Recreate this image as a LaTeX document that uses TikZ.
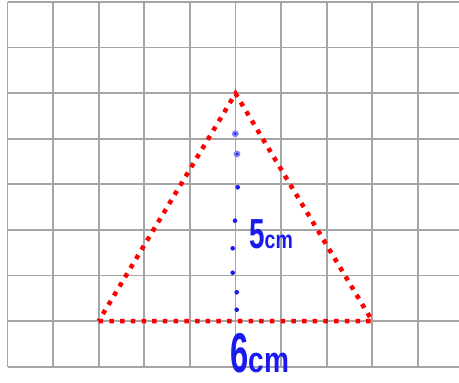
\documentclass[tikz,border=0pt]{standalone}
\usepackage{fontspec}
\newfontfamily\handfont[FakeStretch=0.78]{Liberation Sans}
\definecolor{gridgray}{RGB}{165,165,165}
\definecolor{trired}{RGB}{255,0,0}
\definecolor{penblue}{RGB}{25,25,240}
\definecolor{haloblue}{RGB}{130,130,250}
\tikzset{
  gridline/.style={draw=gridgray, line width=1.8pt},
  tridots/.style={draw=trired, line width=4.5pt, dash pattern=on 4.5pt off 6.2pt},
  pendot/.style={fill=penblue, draw=none},
  halodot/.style={fill=haloblue, draw=none},
  handtext/.style={inner sep=0pt, text=penblue, font=\handfont\bfseries}
}
\begin{document}
\begin{tikzpicture}[x=1pt,y=-1pt]
\useasboundingbox[fill=white] (0,0) rectangle (459,383);
% grid
\foreach \k in {0,...,9}
  \draw[gridline] ({7.5+45.6*\k},1.8) -- ({7.5+45.6*\k},366.6);
\foreach \k in {0,...,8}
  \draw[gridline] (7.5,{1.8+45.6*\k}) -- (459,{1.8+45.6*\k});
% triangle
\coordinate (A) at (98.7,321);
\coordinate (B) at (372.3,321);
\coordinate (C) at (235.5,93.5);
\draw[tridots] (A) -- (B) -- (C) -- cycle;
% height dots
\foreach \x/\y in {235.3/133.7, 237/154}{
  \fill[halodot] (\x,\y) circle (3.4);
  \fill[pendot] (\x,\y) circle (1.4);
}
\foreach \x/\y in {237.7/187.3, 235/220.7, 232.7/248.3, 232.7/272.7, 236.7/292.3, 236.7/309.7}
  \fill[pendot] (\x,\y) circle (2.3);
% labels
\node[handtext, anchor=base west] (h) at (249,248) {\fontsize{42}{42}\selectfont\scalebox{0.85}[1]{5}\fontsize{25}{25}\selectfont cm};
\node[handtext, anchor=base west] (b) at (230,372) {\fontsize{56}{56}\selectfont\scalebox{0.75}[1]{6}\fontsize{36}{36}\selectfont cm};
\end{tikzpicture}
\end{document}
